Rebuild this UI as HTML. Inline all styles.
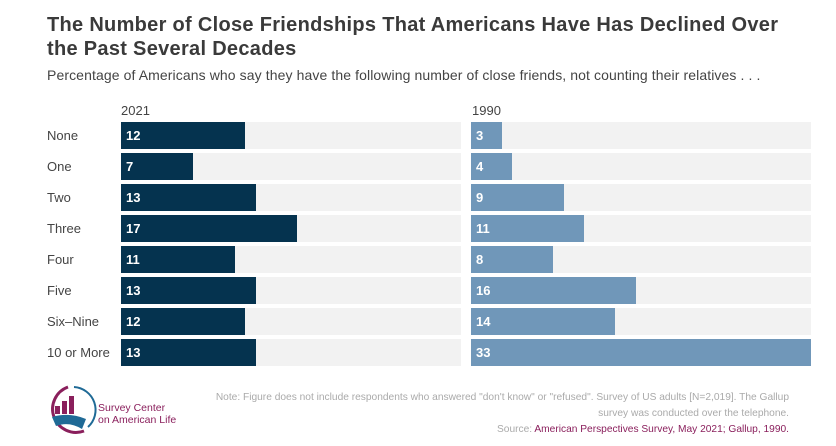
<!DOCTYPE html>
<html><head><style>
body{margin:0;width:836px;height:446px;background:#fff;font-family:"Liberation Sans",sans-serif;position:relative;overflow:hidden}
.a{position:absolute;white-space:nowrap}
.t{left:47px;top:13px;font-size:20px;font-weight:bold;color:#3a3a3a;line-height:24px;letter-spacing:0.3px}
.s{left:47px;top:67px;font-size:14px;color:#444;letter-spacing:0.1px}
.lab{left:47px;font-size:13px;color:#444}
.tr{position:absolute;height:27px;background:#f2f2f2}
.b{position:absolute;left:0;top:0;height:27px;color:#fff;font-size:13px;font-weight:bold;line-height:27px;padding-left:5px;box-sizing:border-box}
.n{font-size:10.2px;color:#aaa;right:47px;text-align:right;line-height:16px}
</style></head><body>
<div class="a t">The Number of Close Friendships That Americans Have Has Declined Over<br>the Past Several Decades</div>
<div class="a s">Percentage of Americans who say they have the following number of close friends, not counting their relatives . . .</div>
<div class="a" style="left:121px;top:103px;font-size:13px;color:#444">2021</div>
<div class="a" style="left:472px;top:103px;font-size:13px;color:#444">1990</div>
<div id="rows"></div>
<script>
var L=["None","One","Two","Three","Four","Five","Six–Nine","10 or More"],A=[12,7,13,17,11,13,12,13],B=[3,4,9,11,8,16,14,33],h="";
for(var i=0;i<8;i++){var y=122+31*i;
h+='<div class="a lab" style="top:'+(y+6)+'px">'+L[i]+'</div>';
h+='<div class="tr" style="left:121px;top:'+y+'px;width:340px"><div class="b" style="width:'+(A[i]*10.35)+'px;background:#05334f">'+A[i]+'</div></div>';
h+='<div class="tr" style="left:471px;top:'+y+'px;width:340px"><div class="b" style="width:'+(B[i]*10.3)+'px;background:#7097b9">'+B[i]+'</div></div>';}
document.getElementById('rows').innerHTML=h;
</script>
<svg class="a" style="left:44px;top:384px" width="56" height="52" viewBox="0 0 56 52">
<path d="M24 3 A23 23 0 1 0 40 47" fill="none" stroke="#8a1f5c" stroke-width="3"/>
<path d="M30 3 A23 23 0 0 1 44 43" fill="none" stroke="#1f6a96" stroke-width="2"/>
<rect x="11" y="22" width="5" height="8" fill="#8a1f5c"/><rect x="18" y="17" width="5" height="13" fill="#8a1f5c"/><rect x="25" y="12" width="5" height="18" fill="#8a1f5c"/>
<path d="M8 33 Q25 28 42 35 L38 45 Q25 37 12 42Z" fill="#1f6a96"/>
</svg>
<div class="a" style="left:98px;top:402px;font-size:10.5px;color:#8a1f5c;line-height:12px">Survey Center<br>on American Life</div>
<div class="a n" style="top:390px">Note: Figure does not include respondents who answered "don't know" or "refused". Survey of US adults [N=2,019]. The Gallup<br>survey was conducted over the telephone.<br>Source: <span style="color:#8a1f5c">American Perspectives Survey, May 2021; Gallup, 1990.</span></div>
</body></html>
